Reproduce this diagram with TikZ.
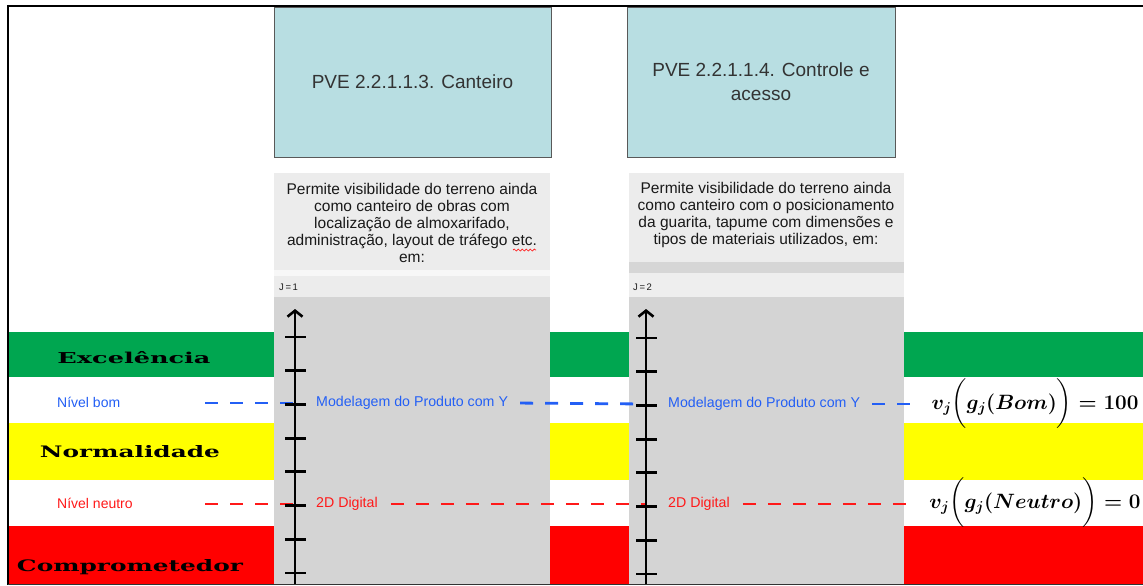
\documentclass[tikz,border=0pt]{standalone}
\usepackage{fontspec}
\usepackage{amsmath}
\newfontfamily\arial{Liberation Sans}
\newfontfamily\heavy{DejaVu Serif}
\usetikzlibrary{arrows.meta,decorations.pathmorphing}
\definecolor{bandgreen}{RGB}{0,166,80}
\definecolor{bandyellow}{RGB}{255,255,0}
\definecolor{bandred}{RGB}{255,0,0}
\definecolor{colgray}{RGB}{212,212,212}
\definecolor{boxgray}{RGB}{236,236,236}
\definecolor{midgray}{RGB}{214,214,214}
\definecolor{titlecyan}{RGB}{184,222,226}
\definecolor{lineblue}{RGB}{35,95,245}
\definecolor{linered}{RGB}{255,25,25}
\definecolor{txtdark}{RGB}{25,25,25}
\newcommand\vbomlabel{\mbox{\fontsize{21}{24}\selectfont\boldmath$v_j\biggl(g_j(Bom)\biggr)=100$}}
\newcommand\vneutrolabel{\mbox{\fontsize{21}{24}\selectfont\boldmath$v_j\biggl(g_j(Neutro)\biggr)=0$}}
\begin{document}
\begin{tikzpicture}[x=1pt,y=-1pt,
  bandlabel/.style={inner sep=0pt},
  lvl/.style={font=\arial\fontsize{14}{16}\selectfont, inner sep=1pt, anchor=west},
  mlabel/.style={font=\arial\fontsize{14.2}{16}\selectfont, inner sep=4pt, anchor=west},
  titlebox/.style={draw=black!65, line width=0.8pt, fill=titlecyan, minimum width=277pt, minimum height=150pt, align=center, text=black!80, font=\arial\fontsize{19}{24}\selectfont, inner sep=0pt},
  bodytext/.style={align=center, text=txtdark, font=\arial\fontsize{15.5}{17}\selectfont, inner sep=0pt},
  jlabel/.style={font=\arial\fontsize{9.5}{11}\selectfont, text=txtdark, anchor=west, inner sep=0pt},
  axisline/.style={line width=2.8pt, -{Straight Barb[length=6pt,width=15pt,line width=2.6pt]}},
  axtick/.style={line width=2.8pt},
  bdash/.style={draw=lineblue, line width=2.8pt, dash pattern=on 13pt off 12pt},
  rdash/.style={draw=linered, line width=2.8pt, dash pattern=on 13pt off 12pt},
  mathlabel/.style={inner sep=0pt}
]
\useasboundingbox (0,0) rectangle (1143,586);
\fill[white] (0,0) rectangle (1143,586);

% colour bands
\fill[bandgreen] (8,332) rectangle (1143,377);
\fill[bandyellow] (8,423) rectangle (1143,480);
\fill[bandred] (8,526) rectangle (1143,584);

% grey columns
\fill[colgray] (274,297) rectangle (550,584);
\fill[colgray] (629,297) rectangle (904,584);

% description boxes
\fill[boxgray] (274,173) rectangle (550,297);
\fill[white!60!boxgray] (274,270) rectangle (550,276);
\fill[boxgray] (629,173) rectangle (904,262);
\fill[midgray] (629,262) rectangle (904,273);
\fill[boxgray!90!white] (629,273) rectangle (904,297);

% title boxes
\node[titlebox] (t1) at (412.5,82) {PVE 2.2.1.1.3. Canteiro};
\node[titlebox, minimum width=268pt] (t2) at (761,82) {PVE 2.2.1.1.4. Controle e\\acesso};

% frame
\draw[line width=2pt] (7,6) -- (1143,6);
\draw[line width=2pt] (8,5) -- (8,585);
\draw[line width=1.5pt, black!80] (8,584.5) -- (1143,584.5);

% description texts
\node[bodytext] (d1) at (412,222.5) {Permite visibilidade do terreno ainda\\como canteiro de obras com\\localização de almoxarifado,\\administração, layout de tráfego etc.\\em:};
\node[bodytext] (d2) at (766,214.5) {Permite visibilidade do terreno ainda\\como canteiro com o posicionamento\\da guarita, tapume com dimensões e\\tipos de materiais utilizados, em:};
\draw[linered, line width=0.7pt, decorate, decoration={snake, amplitude=1pt, segment length=4pt}] (513,250) -- (536,250);
\node[jlabel] (j1) at (279,287) {J\,=\,1};
\node[jlabel] (j2) at (633,287) {J\,=\,2};

% band labels
\node[bandlabel] (exc) at (134,358) {\resizebox{153pt}{12pt}{\heavy\bfseries Excelência}};
\node[bandlabel] (nor) at (130,452) {\resizebox{180pt}{12pt}{\heavy\bfseries Normalidade}};
\node[bandlabel] (com) at (130,567) {\resizebox{226pt}{12pt}{\heavy\bfseries Comprometedor}};

% level labels
\node[lvl, text=lineblue] (nb) at (56,402) {Nível bom};
\node[lvl, text=linered] (nn) at (56,503) {Nível neutro};

% axis coordinates
\coordinate (a1bot) at (295,584);
\coordinate (a1top) at (295,309);
\coordinate (a2bot) at (646,584);
\coordinate (a2top) at (646,309);
\coordinate (a1b) at (295,403);
\coordinate (a1r) at (295,504);
\coordinate (a2b) at (646,404);
\coordinate (a2r) at (646,504);
\coordinate (lb) at (205,403);
\coordinate (lr) at (205,504);
\coordinate (rb) at (914,404);
\coordinate (rr) at (914,504);

% measure labels
\node[mlabel, text=lineblue] (m1) at (312,403) {Modelagem do Produto com Y};
\node[mlabel, text=linered] (g1) at (312,504) {2D Digital};
\node[mlabel, text=lineblue] (m2) at (664,404) {Modelagem do Produto com Y};
\node[mlabel, text=linered] (g2) at (664,504) {2D Digital};

% dashed level lines
\draw[bdash] (lb) -- (a1b);
\draw[bdash, shorten <=8pt] (m1.east) -- (a2b);
\draw[bdash, shorten <=8pt] (m2.east) -- (rb);
\draw[rdash] (lr) -- (a1r);
\draw[rdash, shorten <=9pt] (g1.east) -- (a2r);
\draw[rdash, shorten <=9pt] (g2.east) -- (rr);

% axes
\draw[axisline] (a1bot) -- (a1top);
\draw[axisline] (a2bot) -- (a2top);
\foreach \k in {0,...,7}{
  \draw[axtick] (285,337+33.7*\k) -- (306,337+33.7*\k);
  \draw[axtick] (636,338+33.7*\k) -- (657,338+33.7*\k);
}

% value labels
\node[mathlabel] (vb) at (1035,404) {{\vbomlabel}};
\node[mathlabel] (vn) at (1035,503) {{\vneutrolabel}};
\end{tikzpicture}
\end{document}
